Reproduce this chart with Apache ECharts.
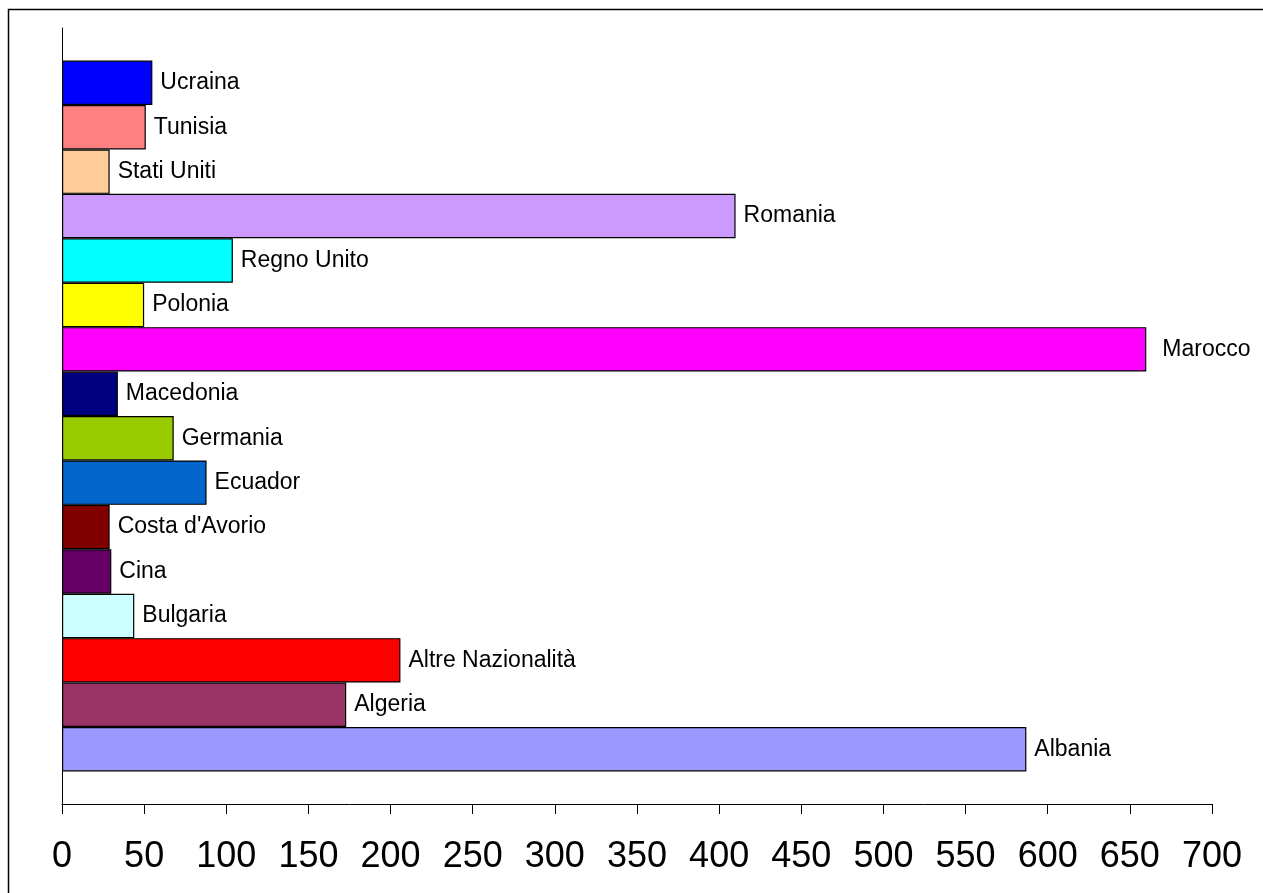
<!DOCTYPE html>
<html>
<head>
<meta charset="utf-8">
<script src="https://cdn.jsdelivr.net/npm/echarts@6/dist/echarts.min.js"></script>
<style>
html,body{margin:0;padding:0;background:#fff;}
#c{width:1263px;height:893px;}
</style>
</head>
<body>
<div id="c"></div>
<script>
// top-to-bottom order as shown
var countries = ['Ucraina','Tunisia','Stati Uniti','Romania','Regno Unito','Polonia','Marocco','Macedonia','Germania','Ecuador',"Costa d'Avorio",'Cina','Bulgaria','Altre Nazionalità','Algeria','Albania'];
var values = [55, 51, 29, 410, 104, 50, 660, 34, 68, 88, 29, 30, 44, 206, 173, 587];
var colors = ['#0000FF','#FF8080','#FFCC99','#CC99FF','#00FFFF','#FFFF00','#FF00FF','#000080','#99CC00','#0066CC','#800000','#660066','#CCFFFF','#FF0000','#993366','#9999FF'];
var xTicks = [0,50,100,150,200,250,300,350,400,450,500,550,600,650,700];

var chart = echarts.init(document.getElementById('c'), null, {renderer:'canvas'});
var series = countries.map(function(name, i){
  return {
    name: name,
    type: 'bar',
    data: [values[i]],
    barGap: '0%',
    barCategoryGap: '8.4%',
    itemStyle: {color: colors[i], borderColor: '#000', borderWidth: 1.2},
    label: {show: true, position: 'right', distance: values[i] > 640 ? 16 : 8, formatter: '{a}', color: '#000', fontSize: 23, fontFamily: 'Liberation Sans, Arial, sans-serif'},
    silent: true,
    animation: false
  };
});
chart.setOption({
  animation: false,
  backgroundColor: '#fff',
  graphic: [{type:'rect', shape:{x:8.5,y:9.5,width:1300,height:950}, style:{fill:'none', stroke:'#000', lineWidth:1.5}, silent:true}],
  grid: {left: 62, right: 51, top: 28, bottom: 89, containLabel: false},
  xAxis: {
    type: 'value', min: xTicks[0], max: xTicks[xTicks.length-1], interval: 50,
    axisLine: {show: true, lineStyle: {color: '#000', width: 1}},
    axisTick: {show: true, length: 10, lineStyle: {color: '#000'}},
    axisLabel: {color: '#000', fontSize: 36, margin: 35, fontFamily: 'Liberation Sans, Arial, sans-serif'},
    splitLine: {show: false}
  },
  yAxis: {
    type: 'category', data: [''], inverse: false,
    axisLine: {show: true, lineStyle: {color: '#000', width: 1}},
    axisTick: {show: false},
    axisLabel: {show: false},
    splitLine: {show: false}
  },
  series: series
});
</script>
</body>
</html>
